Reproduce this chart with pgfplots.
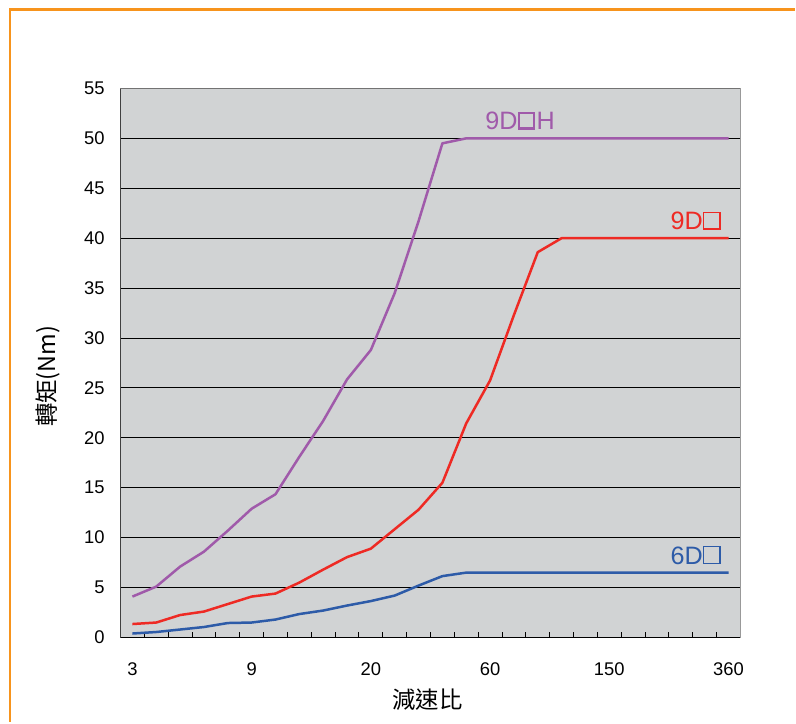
\documentclass[border=0pt]{standalone}
\usepackage{pgfplots}
\usepackage{pgfplotstable}
\pgfplotsset{compat=1.18}
\usepackage{fontspec}
\setmainfont{Liberation Sans}
\newfontfamily\cjk{Noto Sans CJK TC}

\definecolor{plotgray}{HTML}{D1D3D4}
\definecolor{frameorange}{HTML}{F7941D}
\definecolor{cpurple}{HTML}{A05AAA}
\definecolor{cred}{HTML}{EE2A24}
\definecolor{cblue}{HTML}{2D5BA8}

% hollow square glyph used in the model names, #1 = stroke width
\newcommand{\sq}[1]{\tikz[baseline=0pt]\draw[line width=#1]
  (0.07em+#1/2,#1/2) rectangle (0.78em-#1/2,0.72em-#1/2);\hspace{0.05em}}

% i = category index (ratios 3 ... 360), torque in Nm
\pgfplotstableread{
i  p      r      b
0  4.1    1.35   0.4
1  5.1    1.5    0.55
2  7.1    2.25   0.8
3  8.6    2.6    1.05
4  10.7   3.35   1.45
5  12.9   4.1    1.5
6  14.35  4.4    1.8
7  18.1   5.5    2.35
8  21.7   6.8    2.7
9  25.85  8.05   3.2
10 28.8   8.9    3.65
11 34.5   10.85  4.2
12 41.7   12.8   5.2
13 49.5   15.5   6.15
14 50     21.45  6.5
15 50     25.75  6.5
16 50     32.3   6.5
17 50     38.6   6.5
18 50     40     6.5
19 50     40     6.5
20 50     40     6.5
21 50     40     6.5
22 50     40     6.5
23 50     40     6.5
24 50     40     6.5
25 50     40     6.5
}\torque

\begin{document}
\begin{tikzpicture}
\path (0,0) rectangle (398pt,361.5pt);
\draw[frameorange, line width=1.35pt] (5pt,0) -- (5pt,356.65pt) -- (398pt,356.65pt);
\begin{axis}[
  at={(60.35pt,42.2pt)}, anchor=south west,
  scale only axis, width=310.5pt, height=275pt,
  xmin=-0.5, xmax=25.5, ymin=0, ymax=55,
  axis x line*=bottom, axis y line*=left,
  x axis line style={black, line width=0.6pt, -},
  y axis line style={black!75, line width=0.6pt, -},
  axis background/.style={fill=plotgray},
  xtick={-0.5,0.5,...,25.5}, xticklabels={},
  tick align=inside, major tick length=2.8pt,
  xtick style={black, line width=0.5pt},
  extra x ticks={0,5,10,15,20,25},
  extra x tick labels={3,9,20,60,150,360},
  extra x tick style={major tick length=0pt,
    xticklabel style={anchor=north, inner sep=0pt, yshift=-12.2pt}},
  ytick={0,5,...,55},
  ytick style={draw=none},
  yticklabel style={anchor=east, inner sep=0pt, xshift=-7.8pt},
  /pgf/number format/assume math mode=true,
  ymajorgrids, grid style={black, line width=0.5pt},
  tick label style={font=\fontsize{9.2}{11}\selectfont},
  xlabel={\cjk 減速比},
  ylabel={\cjk 轉矩(Nm)},
  label style={font=\fontsize{11.7}{14}\selectfont},
  xlabel style={at={(axis description cs:0.495,-0.1135)}, anchor=center},
  ylabel style={at={(axis description cs:-0.1163,0.4757)}, anchor=center, rotate=0},
  every axis plot/.append style={line width=1.25pt, line join=round, mark=none},
  clip=false,
]
\addplot[cpurple] table[x=i, y=p] {\torque};
\addplot[cred] table[x=i, y=r] {\torque};
\addplot[cblue] table[x=i, y=b] {\torque};
\draw[black!55, line width=0.7pt] (rel axis cs:0,1) -- (rel axis cs:1,1);
\draw[black!40, line width=0.7pt] (rel axis cs:1,0) -- (rel axis cs:1,1);
\node[cpurple, font=\fontsize{12.6}{15}\selectfont] at (axis cs:16.26,51.75) {9D\sq{1.3pt}H};
\node[cred, font=\fontsize{12.6}{15}\selectfont] at (axis cs:23.62,41.75) {9D\sq{0.7pt}};
\node[cblue, font=\fontsize{12.6}{15}\selectfont] at (axis cs:23.62,8.25) {6D\sq{0.7pt}};
\end{axis}
\end{tikzpicture}
\end{document}
